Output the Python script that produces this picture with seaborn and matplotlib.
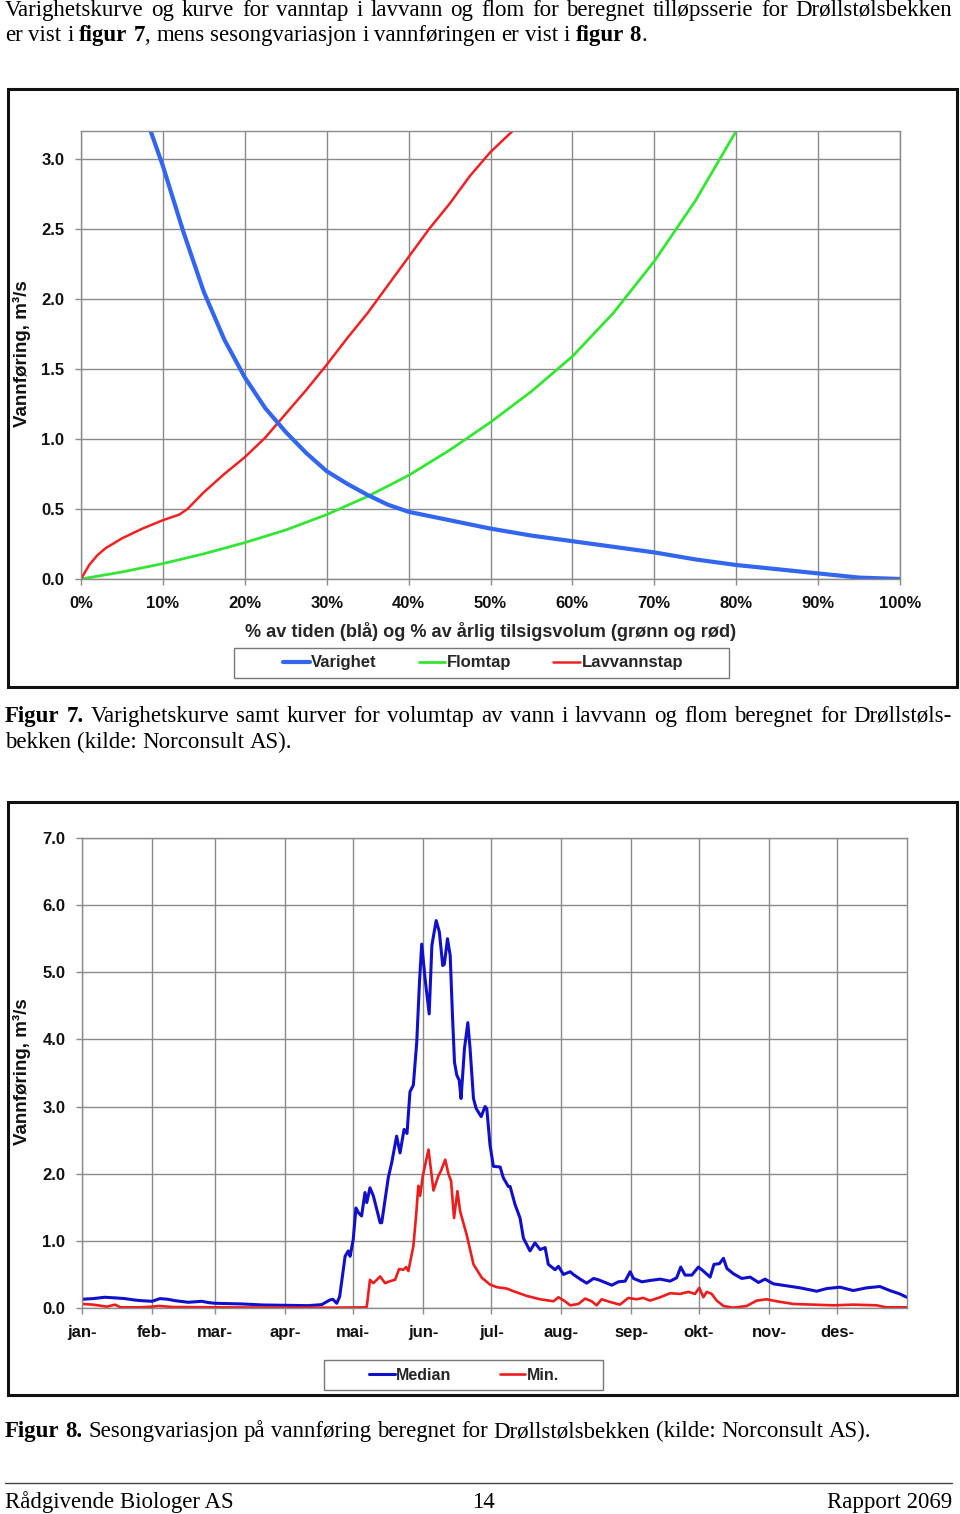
import re
import matplotlib
matplotlib.use('Agg')
import matplotlib.pyplot as plt
from matplotlib.patches import Rectangle
import seaborn as sns
import numpy as np
import pandas as pd

# ---------------- data: figur 7 (varighetskurve) ----------------
varighet_pct = [8.5, 10, 12.5, 15, 17.5, 20, 22.5, 25, 27.5, 30, 32.5, 35, 37.5, 40,
                45, 50, 55, 60, 65, 70, 75, 80, 85, 90, 95, 100]
varighet_q = [3.2, 2.95, 2.48, 2.05, 1.71, 1.44, 1.22, 1.05, 0.9, 0.77, 0.68, 0.6, 0.53, 0.48,
              0.42, 0.36, 0.31, 0.27, 0.23, 0.19, 0.14, 0.10, 0.07, 0.04, 0.01, 0.0]

flomtap_pct = [0, 5, 10, 15, 20, 25, 30, 35, 40, 45, 50, 55, 60, 65, 70, 75, 80]
flomtap_q = [0, 0.05, 0.11, 0.18, 0.26, 0.35, 0.46, 0.59, 0.74, 0.92, 1.12, 1.34, 1.59,
             1.9, 2.27, 2.7, 3.2]

lavvann_pct = [0, 1, 2, 3, 5, 7.5, 10, 12, 13, 15, 17.5, 20, 22.5, 25, 27.5, 30, 32.5,
               35, 37.5, 40, 42.5, 45, 47.5, 50, 52.7]
lavvann_q = [0, 0.1, 0.17, 0.22, 0.29, 0.36, 0.42, 0.46, 0.5, 0.62, 0.75, 0.87, 1.01,
             1.18, 1.35, 1.53, 1.72, 1.9, 2.1, 2.3, 2.5, 2.68, 2.88, 3.05, 3.2]

pct_ticks = list(range(0, 101, 10))
q7_ticks = [0.0, 0.5, 1.0, 1.5, 2.0, 2.5, 3.0]

# ---------------- data: figur 8 (sesongvariasjon) ----------------
median_day = [0, 5, 10, 15, 19, 23, 26, 31, 34.5, 38, 41, 47, 53, 56, 59, 65, 71, 80, 90,
              100, 106, 109.7, 111, 112.7, 114, 116.4, 117.8, 118.6, 120, 121.2, 122.3,
              123.7, 125.2, 126, 127.4, 128.9, 131.9, 132.6, 135.5, 137, 139.2, 140.7,
              142.5, 143.8, 145.1, 146.6, 148.1, 149.3, 150.3, 151.8, 153.6, 154.8, 155.5,
              156.7, 158.1, 159.6, 160.3, 161.7, 162.9, 163.9, 164.8, 165.8, 166.9, 167.7,
              169.2, 170.7, 171.7, 173.2, 174.4, 176.6, 178.3, 179.1, 180.5, 182, 185,
              186.4, 188.6, 189.4, 191.6, 193.8, 195.3, 198.2, 200.4, 202.7, 204.9, 206.3,
              209.3, 210.8, 213, 216, 217.4, 220.4, 223.3, 226.3, 228.5, 231.4, 234.4,
              237.3, 240.3, 242.5, 244, 247.7, 251.3, 255.8, 260.2, 263.1, 264.9, 266.8,
              269.8, 272.7, 274.9, 277.9, 279.6, 282, 283.8, 285.3, 288.2, 291.9, 295.6,
              299.3, 302.2, 305.9, 311.8, 317.7, 325.1, 329.5, 335.4, 341.2, 347.1, 353,
              357.4, 361.8, 364.9]
median_q = [0.13, 0.14, 0.16, 0.15, 0.14, 0.12, 0.11, 0.10, 0.14, 0.13, 0.11, 0.085, 0.10,
            0.08, 0.07, 0.065, 0.06, 0.045, 0.04, 0.035, 0.05, 0.12, 0.13, 0.07, 0.17, 0.77,
            0.85, 0.77, 1.02, 1.49, 1.42, 1.37, 1.72, 1.57, 1.79, 1.67, 1.27, 1.27, 1.94,
            2.16, 2.56, 2.31, 2.66, 2.6, 3.22, 3.32, 3.96, 4.85, 5.42, 4.9, 4.38, 5.4, 5.54,
            5.77, 5.6, 5.1, 5.12, 5.5, 5.25, 4.36, 3.66, 3.47, 3.39, 3.12, 3.86, 4.25, 3.86,
            3.12, 2.97, 2.85, 3.0, 2.97, 2.43, 2.11, 2.1, 1.94, 1.81, 1.81, 1.54, 1.34, 1.04,
            0.85, 0.97, 0.87, 0.9, 0.65, 0.57, 0.62, 0.5, 0.54, 0.5, 0.43, 0.37, 0.44, 0.42,
            0.38, 0.34, 0.39, 0.4, 0.54, 0.44, 0.39, 0.41, 0.43, 0.4, 0.45, 0.61, 0.49, 0.49,
            0.61, 0.55, 0.46, 0.65, 0.66, 0.74, 0.59, 0.51, 0.44, 0.46, 0.38, 0.43, 0.36,
            0.33, 0.3, 0.25, 0.29, 0.31, 0.26, 0.3, 0.32, 0.26, 0.21, 0.16]

min_day = [0, 5, 11, 14.6, 17, 25, 31, 34, 40, 60, 90, 110, 125.5, 126, 127.4, 128.9, 131.9,
           134.1, 136.3, 138.5, 140.3, 142.2, 143.4, 144.4, 146.6, 147.8, 148.8, 149.6,
           150.8, 153.3, 155.5, 157.7, 158.8, 160.7, 162.1, 163.3, 164.6, 166.1, 167.3,
           170.2, 173.2, 176.9, 180.5, 183.5, 187.9, 190.9, 196.8, 202.7, 208.6, 210.8,
           213.7, 216, 219.6, 222.6, 225.5, 227.7, 229.9, 233.6, 238, 241.7, 245.4, 248.3,
           251.3, 255.8, 260.2, 264.6, 268.3, 271.2, 273.1, 274.9, 276.4, 278.6, 280.8,
           283.8, 288.2, 294.1, 298.5, 302.9, 307.3, 314.7, 323.5, 332.4, 341.2, 351.5,
           355.9, 364.9]
min_q = [0.06, 0.05, 0.02, 0.05, 0.01, 0.01, 0.02, 0.03, 0.015, 0.01, 0.005, 0.005, 0.01,
         0.02, 0.42, 0.37, 0.47, 0.37, 0.40, 0.42, 0.58, 0.57, 0.61, 0.55, 0.92, 1.37, 1.82,
         1.67, 1.97, 2.36, 1.75, 1.97, 2.04, 2.21, 2.0, 1.89, 1.34, 1.74, 1.44, 1.09, 0.65,
         0.45, 0.35, 0.31, 0.29, 0.25, 0.18, 0.13, 0.10, 0.16, 0.10, 0.04, 0.06, 0.14, 0.10,
         0.04, 0.13, 0.09, 0.05, 0.15, 0.13, 0.15, 0.11, 0.16, 0.22, 0.21, 0.24, 0.21, 0.30,
         0.16, 0.24, 0.21, 0.11, 0.03, 0.005, 0.03, 0.11, 0.13, 0.10, 0.06, 0.05, 0.04, 0.05,
         0.04, 0.01, 0.01]

month_start = [0, 31, 59, 90, 120, 151, 181, 212, 243, 273, 304, 334]
month_labels = ['jan-', 'feb-', 'mar-', 'apr-', 'mai-', 'jun-', 'jul-', 'aug-', 'sep-',
                'okt-', 'nov-', 'des-']
q8_ticks = [0, 1, 2, 3, 4, 5, 6, 7]

# ---------------- stil ----------------
sns.set_theme(style="whitegrid")
plt.rcParams['font.family'] = ['Liberation Sans', 'DejaVu Sans']
plt.rcParams['font.weight'] = 'bold'
plt.rcParams['axes.labelweight'] = 'bold'

W, H = 960, 1514
SERIF = ['Liberation Serif', 'DejaVu Serif']
GRID = '#8a8a8a'
TXT = 16.5

fig = plt.figure(figsize=(W / 100, H / 100), dpi=100)
fig.patch.set_facecolor('white')


def fx(px):
    return px / W


def fy(py):
    return 1 - py / H


def write_line(text, x0, y, x1=None, size=TXT):
    # skriver en tekstlinje ord for ord, blokkjustert hvis x1 er gitt
    r = fig.canvas.get_renderer()
    items = []
    for w in text.split(' '):
        parts = []
        for s in re.split(r'(\*\*.+?\*\*)', w):
            if not s:
                continue
            bold = s.startswith('**')
            s = s.strip('*') if bold else s
            t = fig.text(0, fy(y), s, fontsize=size, family=SERIF,
                         weight='bold' if bold else 'normal', va='baseline', ha='left',
                         color='black')
            parts.append(t)
        items.append(parts)
    widths = [[t.get_window_extent(r).width for t in p] for p in items]
    total = sum(sum(w) for w in widths)
    if x1 is not None and len(items) > 1:
        gap = (x1 - x0 - total) / (len(items) - 1)
    else:
        gap = size * 0.25 * 100 / 72
    x = x0
    for p, ws in zip(items, widths):
        for t, w in zip(p, ws):
            t.set_x(fx(x))
            x += w
        x += gap


def style_axes(ax):
    ax.set_facecolor('white')
    ax.grid(True, color=GRID, lw=1.0)
    for s in ax.spines.values():
        s.set_color(GRID)
        s.set_linewidth(1.0)
    ax.tick_params(axis='both', which='major', length=4, width=1, color=GRID,
                   labelsize=12, pad=8, labelcolor='#111111', bottom=True, left=True)
    for lab in ax.get_xticklabels() + ax.get_yticklabels():
        lab.set_fontweight('bold')


# ---------------- tekst øverst ----------------
write_line('Varighetskurve og kurve for vanntap i lavvann og flom for beregnet tilløpsserie for Drøllstølsbekken',
           5, 16, 952)
write_line('er vist i **figur** **7**, mens sesongvariasjon i vannføringen er vist i **figur** **8**.',
           5, 41)

# ---------------- figur 7 ----------------
fig.add_artist(Rectangle((fx(8), fy(687)), fx(957) - fx(8), (687 - 89) / H,
                         transform=fig.transFigure, fill=False, lw=2.2, ec='#111111'))
ax1 = fig.add_axes([fx(81), fy(579), fx(900) - fx(81), (579 - 131) / H])
sns.lineplot(x=flomtap_pct, y=flomtap_q, color='#33E633', lw=2.0, ax=ax1, label='Flomtap')
sns.lineplot(x=lavvann_pct, y=lavvann_q, color='#EE2222', lw=1.8, ax=ax1, label='Lavvannstap')
sns.lineplot(x=varighet_pct, y=varighet_q, color='#3366EE', lw=3.0, ax=ax1, label='Varighet')
ax1.set_xlim(0, 100)
ax1.set_ylim(0, 3.2)
ax1.set_xticks(pct_ticks)
ax1.set_xticklabels([f'{p}%' for p in pct_ticks])
ax1.set_yticks(q7_ticks)
ax1.set_yticklabels([f'{v:.1f}' for v in q7_ticks])
style_axes(ax1)
ax1.set_xlabel('% av tiden (blå) og % av årlig tilsigsvolum (grønn og rød)', fontsize=13.1,
               labelpad=8)
ax1.set_ylabel('')
fig.text(fx(22), fy(354), 'Vannføring, m³/s', rotation=90, fontsize=13.5, weight='bold',
         ha='center', va='center', color='#111111')
h, l = ax1.get_legend_handles_labels()
order = [2, 0, 1]
ax1.legend([h[i] for i in order], [l[i] for i in order], loc='center',
           bbox_to_anchor=(fx(483), fy(663)), bbox_transform=fig.transFigure, ncol=3,
           frameon=False, handlelength=1.6, handletextpad=0.1, columnspacing=2.5,
           prop={'size': 12, 'weight': 'bold'})
fig.add_artist(Rectangle((fx(234), fy(678)), fx(729) - fx(234), 30 / H,
                         transform=fig.transFigure, fill=False, lw=1.0, ec='#777777'))

write_line('**Figur** **7.** Varighetskurve samt kurver for volumtap av vann i lavvann og flom beregnet for Drøllstøls-',
           5, 722, 952)
write_line('bekken (kilde: Norconsult AS).', 5, 748)

# ---------------- figur 8 ----------------
fig.add_artist(Rectangle((fx(8), fy(1395)), fx(957) - fx(8), (1395 - 802) / H,
                         transform=fig.transFigure, fill=False, lw=2.2, ec='#111111'))
ax2 = fig.add_axes([fx(82), fy(1308), fx(907) - fx(82), (1308 - 838) / H])
sns.lineplot(x=median_day, y=median_q, color='#1010CC', lw=2.2, ax=ax2, label='Median')
sns.lineplot(x=min_day, y=min_q, color='#EE1C1C', lw=1.9, ax=ax2, label='Min.')
ax2.set_xlim(0, 365)
ax2.set_ylim(0, 7)
ax2.set_xticks(month_start)
ax2.set_xticklabels(month_labels)
ax2.set_yticks(q8_ticks)
ax2.set_yticklabels([f'{v:.1f}' for v in q8_ticks])
style_axes(ax2)
ax2.set_xlabel('')
ax2.set_ylabel('')
fig.text(fx(22), fy(1072), 'Vannføring, m³/s', rotation=90, fontsize=13.5, weight='bold',
         ha='center', va='center', color='#111111')
ax2.legend(loc='center', bbox_to_anchor=(fx(464), fy(1375)), bbox_transform=fig.transFigure,
           ncol=2, frameon=False, handlelength=1.6, handletextpad=0.1, columnspacing=3.0,
           prop={'size': 11.5, 'weight': 'bold'})
fig.add_artist(Rectangle((fx(324), fy(1390)), fx(603) - fx(324), 30 / H,
                         transform=fig.transFigure, fill=False, lw=1.0, ec='#777777'))

write_line('**Figur** **8.** Sesongvariasjon på vannføring beregnet for Drøllstølsbekken (kilde: Norconsult AS).',
           5, 1437)

# ---------------- bunntekst ----------------
fig.add_artist(plt.Line2D([fx(5), fx(952)], [fy(1483), fy(1483)], transform=fig.transFigure,
                          color='#444444', lw=1.0))
fig.text(fx(5), fy(1508), 'Rådgivende Biologer AS', fontsize=TXT, family=SERIF,
         weight='normal', va='baseline', ha='left', color='black')
fig.text(fx(483), fy(1508), '14', fontsize=TXT, family=SERIF, weight='normal',
         va='baseline', ha='center', color='black')
fig.text(fx(952), fy(1508), 'Rapport 2069', fontsize=TXT, family=SERIF, weight='normal',
         va='baseline', ha='right', color='black')

fig.savefig('out.png', dpi=100)
plt.close(fig)
